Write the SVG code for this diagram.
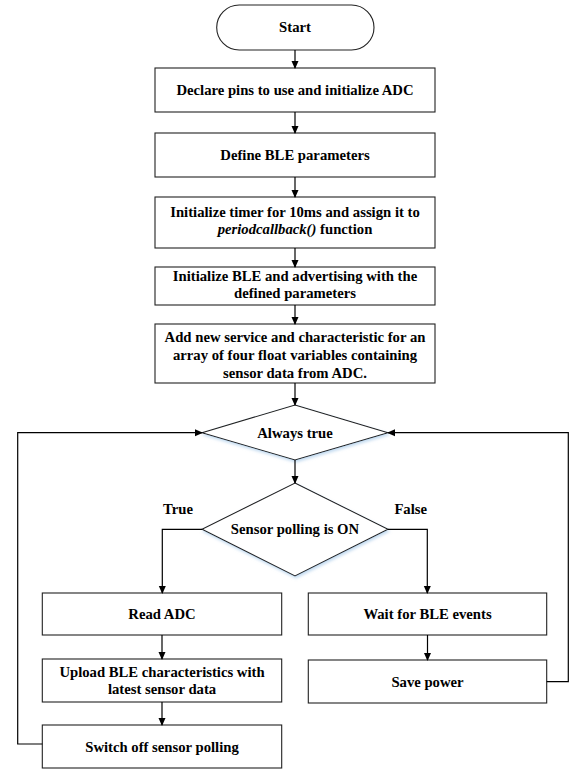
<svg xmlns="http://www.w3.org/2000/svg" width="570" height="769" viewBox="0 0 570 769">
<style>
.n{fill:#fff;stroke:#222;stroke-width:1.1}
.t{font-family:"Liberation Serif","Times New Roman",serif;font-weight:bold;font-size:14.7px;fill:#000;text-anchor:middle}
.c{fill:none;stroke:#000;stroke-width:1.2}
</style>
<defs>
<marker id="ah" markerWidth="8" markerHeight="8" refX="7" refY="4" orient="auto" markerUnits="userSpaceOnUse">
<path d="M0,0.5 L8,4 L0,7.5 Z" fill="#000"/>
</marker>
<filter id="sh" x="-10%" y="-10%" width="120%" height="130%">
<feGaussianBlur in="SourceAlpha" stdDeviation="1.5"/>
<feOffset dx="1" dy="2" result="b"/>
<feFlood flood-color="#9cc3e6" flood-opacity="0.6"/>
<feComposite in2="b" operator="in"/>
<feMerge><feMergeNode/><feMergeNode in="SourceGraphic"/></feMerge>
</filter>
</defs>
<rect width="570" height="769" fill="#fff"/>
<g id="start"><rect class="n" x="216.7" y="5" width="157.3" height="45" rx="22.5"/><text class="t" x="295" y="32">Start</text></g>
<g id="declare"><rect class="n" x="155" y="68" width="280" height="44"/><text class="t" x="295" y="95">Declare pins to use and initialize ADC</text></g>
<g id="define"><rect class="n" x="155" y="133" width="280" height="44"/><text class="t" x="295" y="160">Define BLE parameters</text></g>
<g id="timer"><rect class="n" x="155" y="197" width="280" height="51"/><text class="t" x="295" y="216.5">Initialize timer for 10ms and assign it to</text><text class="t" x="295" y="233.5"><tspan font-style="italic">periodcallback()</tspan> function</text></g>
<g id="initble"><rect class="n" x="155" y="267" width="280" height="38"/><text class="t" x="295" y="281">Initialize BLE and advertising with the</text><text class="t" x="295" y="298">defined parameters</text></g>
<g id="addservice"><rect class="n" x="155" y="324" width="280" height="59"/><text class="t" x="295" y="341.5">Add new service and characteristic for an</text><text class="t" x="295" y="360">array of four float variables containing</text><text class="t" x="295" y="378">sensor data from ADC.</text></g>
<g id="always"><polygon class="n" filter="url(#sh)" points="295,405 388,432.7 295,460 202,432.7"/><text class="t" x="295" y="437.5">Always true</text></g>
<g id="polling"><polygon class="n" filter="url(#sh)" points="295,483 388,529.3 295,576 202,529.3"/><text class="t" x="295" y="534">Sensor polling is ON</text></g>
<g id="lbl-true"><text class="t" x="178" y="514">True</text></g>
<g id="lbl-false"><text class="t" x="410.7" y="514">False</text></g>
<g id="readadc"><rect class="n" x="42.3" y="593" width="239.4" height="42"/><text class="t" x="162" y="619">Read ADC</text></g>
<g id="upload"><rect class="n" x="42.3" y="659" width="239.4" height="43"/><text class="t" x="162" y="676.5">Upload BLE characteristics with</text><text class="t" x="162" y="694">latest sensor data</text></g>
<g id="switchoff"><rect class="n" x="42.3" y="725" width="239.4" height="43"/><text class="t" x="162" y="751.5">Switch off sensor polling</text></g>
<g id="wait"><rect class="n" x="308.3" y="593" width="238.4" height="42"/><text class="t" x="427.5" y="619">Wait for BLE events</text></g>
<g id="savepower"><rect class="n" x="308.3" y="660" width="238.4" height="43"/><text class="t" x="427.5" y="686.5">Save power</text></g>
<g id="connectors">
<path class="c" marker-end="url(#ah)" d="M295,50 V68"/>
<path class="c" marker-end="url(#ah)" d="M295,112 V133"/>
<path class="c" marker-end="url(#ah)" d="M295,177 V197"/>
<path class="c" marker-end="url(#ah)" d="M295,248 V267"/>
<path class="c" marker-end="url(#ah)" d="M295,305 V324"/>
<path class="c" marker-end="url(#ah)" d="M295,383 V405"/>
<path class="c" marker-end="url(#ah)" d="M295,460 V483"/>
<path class="c" marker-end="url(#ah)" d="M202,529.3 H162.3 V593"/>
<path class="c" marker-end="url(#ah)" d="M388,529.3 H427.3 V593"/>
<path class="c" marker-end="url(#ah)" d="M162,635 V659"/>
<path class="c" marker-end="url(#ah)" d="M162,702 V725"/>
<path class="c" marker-end="url(#ah)" d="M427.5,635 V660"/>
<path class="c" marker-end="url(#ah)" d="M42.3,744 H17.7 V432.7 H202"/>
<path class="c" marker-end="url(#ah)" d="M546.7,681.7 H568.3 V432.7 H388"/>
</g>
</svg>
